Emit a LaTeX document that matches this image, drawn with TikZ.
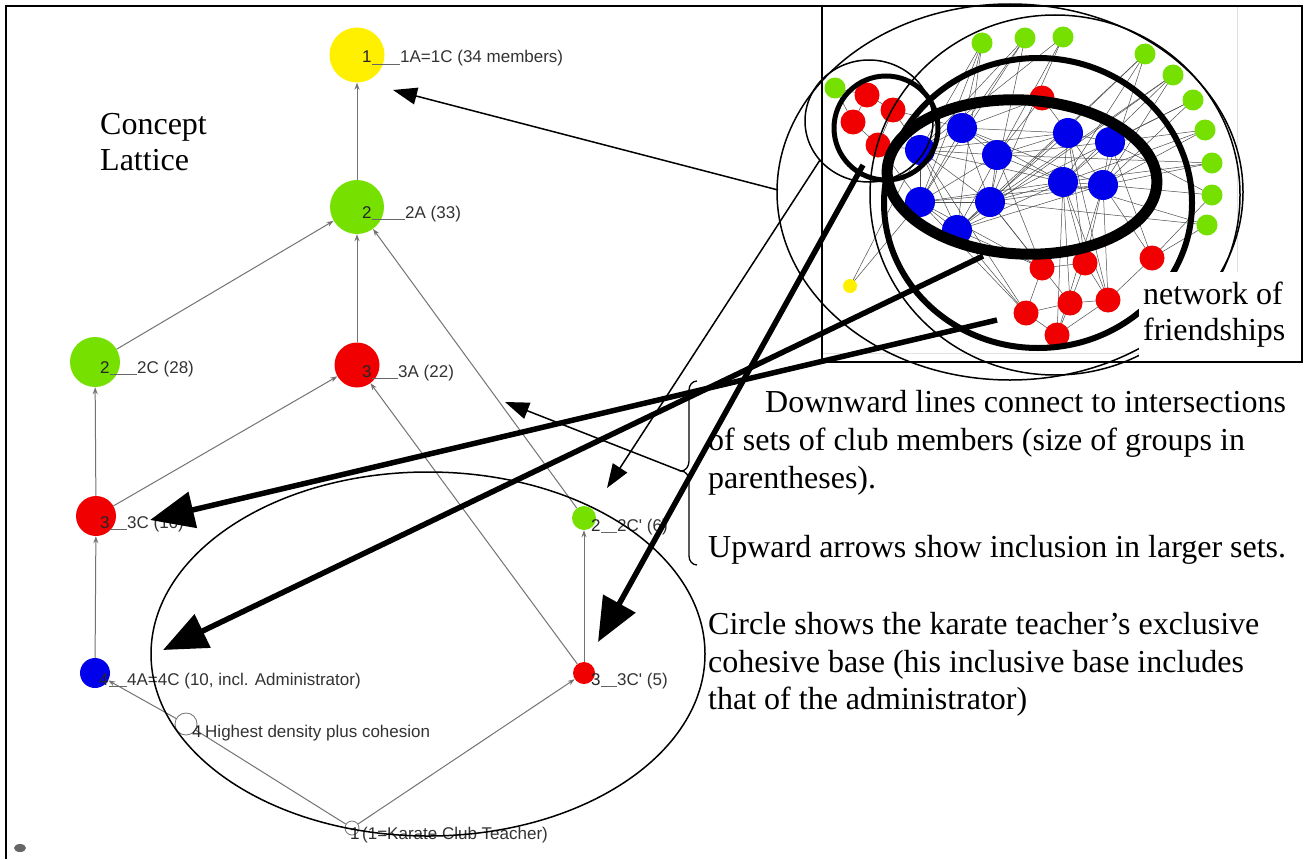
\documentclass[tikz,border=0pt]{standalone}
\usepackage{fontspec}
\setmainfont{Liberation Serif}
\newfontfamily\arialf{Liberation Sans}
\usetikzlibrary{arrows.meta}
\definecolor{latyellow}{RGB}{255,240,0}
\definecolor{latgreen}{RGB}{118,224,0}
\definecolor{latred}{RGB}{240,0,0}
\definecolor{latblue}{RGB}{0,0,235}
\newcommand\bigtxt{\fontsize{32}{37}\selectfont}
\newcommand\smtxt{\arialf\fontsize{17}{20}\selectfont}
\begin{document}
\begin{tikzpicture}[x=1pt,y=-1pt,
  latn/.style={circle, inner sep=0pt, draw=none},
  numt/.style={anchor=base west, inner sep=0pt, font=\smtxt, text=black!85},
  labt/.style={anchor=base west, inner sep=0pt, font=\smtxt, text=black!80},
  leader/.style={draw=black!60, line width=0.8pt},
  latedge/.style={draw=black!55, line width=1pt, -{Stealth[length=7pt,width=5pt]}},
  netedge/.style={draw=black!70, line width=0.5pt},
  bn/.style={circle, fill=latblue, minimum size=30pt, inner sep=0pt},
  rn/.style={circle, fill=latred, minimum size=25pt, inner sep=0pt},
  gn/.style={circle, fill=latgreen, minimum size=21pt, inner sep=0pt},
  yn/.style={circle, fill=latyellow, minimum size=14pt, inner sep=0pt},
  bigt/.style={anchor=base west, inner sep=0pt, font=\bigtxt},
  thickarrow/.style={line width=5.5pt, -{Triangle[length=44pt,width=36pt]}},
  thinarrow/.style={line width=1.5pt, -{Triangle[length=24pt,width=17pt]}},
  thinell/.style={line width=1.5pt},
]
\useasboundingbox (0,0) rectangle (1308,859);
\fill[white] (0,0) rectangle (1308,859);

% ---------- network of friendships ----------
\draw[black!12, line width=0.8pt] (822,353) -- (1237,353) -- (1237,6);
\foreach \n/\x/\y in {g1/835/88, g2/982/43, g3/1025/38, g4/1063/37, g5/1145/54, g6/1173/75,
  g7/1193/100, g8/1205/130, g9/1212/163, g10/1212/195, g11/1207/225}
  \coordinate (\n) at (\x,\y);
\foreach \n/\x/\y in {rl1/867/95, rl2/893/110, rl3/853/122, rl4/878/145, rt/1042/98,
  rb1/1042/268, rb2/1085/263, rb3/1152/258, rb4/1070/303, rb5/1108/300, rb6/1026/313, rb7/1057/335}
  \coordinate (\n) at (\x,\y);
\foreach \n/\x/\y in {b1/962/128, b2/920/150, b3/997/155, b4/1068/133, b5/1110/142,
  b6/1063/182, b7/1103/185, b8/920/202, b9/990/202, b10/957/230}
  \coordinate (\n) at (\x,\y);
\coordinate (yy) at (850,286);
\foreach \a/\b in {b1/b2, b1/b3, b1/b8, b1/b9, b1/b4, b1/b6, b2/b3, b2/b8, b2/b9, b2/b10,
  b3/b9, b3/b4, b3/b6, b3/b8, b8/b9, b8/b10, b9/b10, b9/b6, b9/b7, b4/b5, b4/b6, b4/b7,
  b5/b6, b5/b7, b6/b7, b3/b5, b2/b6, b10/b6, b8/b7, b1/b7, b10/b4, b2/b4, b8/b6, b10/b7,
  g2/b2, g2/b8, g2/b1, g3/b1, g3/b8, g3/b2, g4/b2, g4/b10, g4/b9, g5/b7, g5/b6, g5/b9,
  g6/b6, g6/b7, g6/b10, g7/b5, g7/b7, g7/b9, g8/b5, g8/b7, g8/b6, g9/b7, g9/b6, g9/b3,
  g10/b7, g10/b5, g10/rb3, g11/b6, g11/rb3, g11/b9, g1/rl1, g1/rl3, g2/b10, g3/b9, g5/b10, g6/b9,
  rl1/rl2, rl1/rl3, rl2/rl4, rl3/rl4, rl2/b2, rl4/b2, rl2/b1, rl4/b8,
  rt/b1, rt/b4, rt/b3,
  rb1/rb2, rb1/rb6, rb2/rb4, rb2/rb5, rb4/rb6, rb4/rb7, rb6/rb7, rb5/rb7, rb3/rb5, rb4/rb5,
  rb3/b7, rb3/b5, rb1/b9, rb1/b10, rb1/b3, rb2/b6, rb2/b7, rb4/b6, rb5/b7, rb5/b6,
  rb6/b8, rb6/b10, rb6/b2, rb7/b6, rb4/b9, rb2/b4, rb1/b8, rb7/b7, rb5/b4, yy/b8, yy/b2}
  \draw[netedge] (\a) -- (\b);
\foreach \n in {g1,g2,g3,g4,g5,g6,g7,g8,g9,g10,g11} \node[gn] (N\n) at (\n) {};
\foreach \n in {rl1,rl2,rl3,rl4,rt,rb1,rb2,rb3,rb4,rb5,rb6,rb7} \node[rn] (N\n) at (\n) {};
\foreach \n in {b1,b2,b3,b4,b5,b6,b7,b8,b9,b10} \node[bn] (N\n) at (\n) {};
\node[yn] (Nyy) at (yy) {};

% ellipses round groups of the network
\draw[thinell] (1010,192) ellipse [x radius=233pt, y radius=188pt];
\draw[thinell] (1055,195) ellipse [x radius=185pt, y radius=180pt];
\draw[thinell] (869,121) ellipse [x radius=64pt, y radius=61pt];
\draw[line width=5pt] (886,128) ellipse [x radius=52pt, y radius=52pt];
\draw[line width=6pt] (1038,203) ellipse [x radius=154pt, y radius=145pt];
\draw[line width=11pt, rotate around={-3:(1022,177)}] (1022,177) ellipse [x radius=135pt, y radius=77pt];

% label of the network
\fill[white] (1139,272) rectangle (1300,361);
\node[bigt] (nw1) at (1143,304) {network of};
\node[bigt] (nw2) at (1143,340) {friendships};

% ---------- concept lattice ----------
\node[latn, fill=latyellow, minimum size=55pt] (n1) at (357,55) {};
\node[latn, fill=latgreen, minimum size=54pt] (n2A) at (357,207) {};
\node[latn, fill=latgreen, minimum size=50pt] (n2C) at (95,362) {};
\node[latn, fill=latred, minimum size=45pt] (n3A) at (357,365) {};
\node[latn, fill=latred, minimum size=40pt] (n3C) at (96,516) {};
\node[latn, fill=latblue, minimum size=30pt] (n4A) at (95,673) {};
\node[latn, fill=latgreen, minimum size=24pt] (n2Cp) at (584,518) {};
\node[latn, fill=latred, minimum size=22pt] (n3Cp) at (584,673) {};
\node[latn, fill=white, draw=black!55, line width=0.8pt, minimum size=22pt] (nhd) at (186,724) {};
\node[latn, fill=white, draw=black!55, line width=0.8pt, minimum size=14pt] (nkt) at (352,828) {};

\draw[latedge] (n2A) -- (n1);
\draw[latedge] (n3A) -- (n2A);
\draw[latedge] (n2C) -- (n2A);
\draw[latedge] (n2Cp) -- (n2A);
\draw[latedge] (n3C) -- (n2C);
\draw[latedge] (n3C) -- (n3A);
\draw[latedge] (n3Cp) -- (n3A);
\draw[latedge] (n4A) -- (n3C);
\draw[latedge] (n3Cp) -- (n2Cp);
\draw[latedge] (nhd) -- (n4A);
\draw[draw=black!55, line width=1pt] (nkt) -- (nhd);
\draw[latedge] (nkt) -- (n3Cp);

\node[numt] (u1) at (362,63) {1};
\node[labt] (l1) at (400,63) {1A=1C (34 members)};
\node[numt] (u2A) at (362,218) {2};
\node[labt] (l2A) at (405,218) {2A (33)};
\node[numt] (u2C) at (100,373) {2};
\node[labt] (l2C) at (137,373) {2C (28)};
\node[numt] (u3A) at (362,377) {3};
\node[labt] (l3A) at (398,377) {3A (22)};
\node[numt] (u3C) at (100,528) {3};
\node[labt] (l3C) at (127,528) {3C (16)};
\node[numt] (u4A) at (99,685) {4};
\node[labt] (l4A) at (127,685) {4A=4C (10, incl. Administrator)};
\node[numt] (u2Cp) at (591,531) {2};
\node[labt] (l2Cp) at (617,531) {2C' (6)};
\node[numt] (u3Cp) at (591,685) {3};
\node[labt] (l3Cp) at (617,685) {3C' (5)};
\node[numt] (uhd) at (192,737) {4};
\node[labt] (lhd) at (205,737) {Highest density plus cohesion};
\node[numt] (ukt) at (350,839) {1};
\node[labt] (lkt) at (362,839) {(1=Karate Club Teacher)};
\foreach \u/\l in {u1/l1, u2A/l2A, u2C/l2C, u3A/l3A, u3C/l3C, u4A/l4A, u2Cp/l2Cp, u3Cp/l3Cp}
  \draw[leader] ([yshift=-1pt]\u.base east) -- ([yshift=-1pt]\l.base west);

\node[bigt] (c1) at (100,134) {Concept};
\node[bigt] (c2) at (100,170) {Lattice};

% exclusive cohesive base of the karate teacher
\draw[thinell] (428,654) ellipse [x radius=277pt, y radius=182pt];

% ---------- explanations ----------
\node[bigt] (t1) at (765,412) {Downward lines connect to intersections};
\node[bigt] (t2) at (708,450) {of sets of club members (size of groups in};
\node[bigt] (t3) at (708,488) {parentheses).};
\node[bigt] (t4) at (708,557) {Upward arrows show inclusion in larger sets.};
\node[bigt] (t5) at (708,634) {Circle shows the karate teacher’s exclusive};
\node[bigt] (t6) at (708,672) {cohesive base (his inclusive base includes};
\node[bigt] (t7) at (708,709) {that of the administrator)};

\coordinate (cusp) at (681,471);
\draw[line width=1.3pt] (697,381) to[out=180,in=90] (689,390) -- (689,461)
  to[out=-90,in=0] (cusp) to[out=0,in=90] (689,481) -- (689,556) to[out=-90,in=180] (697,565);

% arrows
\coordinate (aAll) at (778,190);
\coordinate (aAllEnd) at (393,90);
\coordinate (aC1) at (820,160);
\coordinate (aC1End) at (607,488);
\coordinate (aUpEnd) at (505,402);
\coordinate (s1) at (997,320);
\coordinate (e1) at (150,520);
\coordinate (s2) at (983,256);
\coordinate (e2) at (163,650);
\coordinate (s3) at (863,165);
\coordinate (e3) at (598,642);
\draw[thinarrow] (aAll) -- (aAllEnd);
\draw[thinarrow] (aC1) -- (aC1End);
\draw[thinarrow] (cusp) -- (aUpEnd);
\draw[thickarrow] (s1) -- (e1);
\draw[thickarrow] (s2) -- (e2);
\draw[thickarrow] (s3) -- (e3);

% frame
\draw[line width=2pt] (6,859) -- (6,6) -- (822,6);
\draw[line width=1.6pt] (822,362) rectangle (1302,6);
\fill[black!60] (20,848) ellipse [x radius=6pt, y radius=4pt];
\end{tikzpicture}
\end{document}
